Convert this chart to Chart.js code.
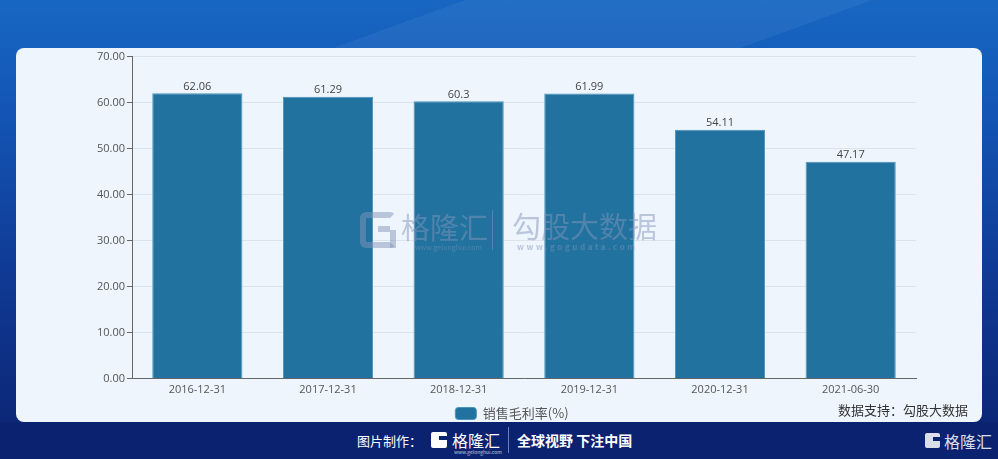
<!DOCTYPE html>
<html>
<head>
<meta charset="utf-8">
<script src="https://cdn.jsdelivr.net/npm/chart.js@4.4.0/dist/chart.umd.min.js"></script>
<style>
  html, body { margin: 0; padding: 0; }
  body {
    width: 998px; height: 459px; overflow: hidden; position: relative;
    font-family: "Noto Sans CJK SC", "Noto Sans", sans-serif;
    background: linear-gradient(180deg, #1767c2 0%, #1458b8 20%, #0f3a94 60%, #0b2270 100%);
  }
  .stripe {
    position: absolute; left: 0; top: 0; width: 998px; height: 60px;
    background: linear-gradient(160deg, rgba(255,255,255,0) 40%, rgba(255,255,255,0.05) 40%, rgba(255,255,255,0.05) 75%, rgba(255,255,255,0) 75%);
  }
  .panel {
    position: absolute; left: 16px; top: 48px; width: 966px; height: 374px;
    background: #eef5fc; border-radius: 8px;
  }
  #wrap { position: absolute; left: 16px; top: 48px; width: 966px; height: 382px; }
  .source {
    position: absolute; right: 30px; top: 400px; font-size: 13px; color: #333;
  }
  .footer {
    position: absolute; left: 0; top: 422px; width: 998px; height: 37px;
    background: #0b2270; color: #fff;
  }
  .footer span { position: absolute; top: 9px; font-size: 13px; }
  .wm { position: absolute; color: rgba(130,150,185,0.5); pointer-events: none; }
  .wb { background: rgba(130,150,185,0.5); }
  .g { position: absolute; background: #fff; border-radius: 2px; }
  .g i { position: absolute; background: #0b2270; }
</style>
</head>
<body>
<div class="stripe"></div>
<div class="panel"></div>
<div id="wrap"><canvas id="chart"></canvas></div>
<div class="wm" style="left:360px;top:212px;width:24px;height:24px;border:6px solid rgba(130,150,185,0.5);border-radius:6px;border-right-color:transparent;"></div>
<div class="wm wb" style="left:390px;top:230px;width:6px;height:18px;"></div>
<div class="wm wb" style="left:378px;top:226px;width:12px;height:6px;"></div>
<div class="wm" style="left:401px;top:205px;font-size:29px;">格隆汇</div>
<div class="wm" style="left:415px;top:242px;font-size:7px;">www.gelonghui.com</div>
<div class="wm wb" style="left:492px;top:210px;width:1px;height:40px;"></div>
<div class="wm" style="left:512px;top:204px;font-size:29px;">勾股大数据</div>
<div class="wm" style="left:517px;top:241px;font-size:8px;letter-spacing:2.6px;font-weight:bold;">www.gogudata.com</div>
<div class="source">数据支持：勾股大数据</div>
<div class="footer">
  <span style="left:357px;">图片制作：</span>
  <span class="g" style="left:431px;top:10px;width:16px;height:16px;"><i style="left:8px;top:4px;width:8px;height:4px;"></i></span>
  <span style="left:452px;top:6px;font-size:16px;">格隆汇</span>
  <span style="left:454px;top:26px;font-size:5px;opacity:0.7;">www.gelonghui.com</span>
  <span style="left:508px;top:5px;width:1px;height:26px;background:#6d80b8;"></span>
  <span style="left:517px;top:8px;font-weight:bold;font-size:14px;">全球视野 下注中国</span>
  <span class="g" style="left:925px;top:11px;width:15px;height:15px;opacity:0.85;"><i style="left:8px;top:4px;width:7px;height:4px;"></i></span>
  <span style="left:944px;top:7px;font-size:16px;opacity:0.85;">格隆汇</span>
</div>
<script>
const categories = ["2016-12-31", "2017-12-31", "2018-12-31", "2019-12-31", "2020-12-31", "2021-06-30"];
const grossMargin = [62.06, 61.29, 60.3, 61.99, 54.11, 47.17];
const seriesName = "销售毛利率(%)";

const barColor = "#21729f";
const textColor = "#555";

// value labels above the bars
const valueLabels = {
  id: "valueLabels",
  afterDatasetsDraw(chart) {
    const ctx = chart.ctx;
    const meta = chart.getDatasetMeta(0);
    ctx.save();
    ctx.font = "11px 'Open Sans', sans-serif";
    ctx.fillStyle = "#444";
    ctx.textAlign = "center";
    ctx.textBaseline = "bottom";
    meta.data.forEach((bar, i) => {
      ctx.fillText(String(grossMargin[i]), bar.x, bar.y - 1);
    });
    ctx.restore();
  }
};

// legend in the reference sits a bit right of centre
const legendShift = {
  id: "legendShift",
  afterLayout(chart) {
    chart.legend.left += 46;
    chart.legend.right += 46;
  }
};

new Chart(document.getElementById("chart"), {
  type: "bar",
  data: {
    labels: categories,
    datasets: [{
      label: seriesName,
      data: grossMargin,
      backgroundColor: barColor,
      borderColor: "#4a93bb",
      borderWidth: 1,
      categoryPercentage: 1,
      barPercentage: 0.69
    }]
  },
  options: {
    responsive: true,
    maintainAspectRatio: false,
    animation: false,
    layout: { padding: { top: 7, right: 66, bottom: 0, left: 0 } },
    plugins: {
      legend: {
        position: "bottom",
        labels: {
          boxWidth: 21,
          boxHeight: 12,
          color: textColor,
          font: { size: 13, family: "'Noto Sans CJK SC', sans-serif" },
          padding: 7,
          useBorderRadius: true,
          borderRadius: 3
        }
      },
      tooltip: { enabled: false }
    },
    scales: {
      x: {
        grid: { display: false, drawTicks: false },
        border: { color: "#666", width: 1 },
        ticks: { color: textColor, font: { size: 11, family: "'Open Sans', sans-serif" }, padding: 4 }
      },
      y: {
        min: 0,
        max: 70,
        afterFit(scale) { scale.width = 116; },
        grid: { color: "#dde3ea", tickColor: "#666", tickLength: 5 },
        border: { color: "#666", width: 1 },
        ticks: {
          stepSize: 10,
          color: textColor,
          font: { size: 11, family: "'Open Sans', sans-serif" },
          padding: 2,
          callback: v => v.toFixed(2)
        }
      }
    }
  },
  plugins: [valueLabels, legendShift]
});
</script>
</body>
</html>
